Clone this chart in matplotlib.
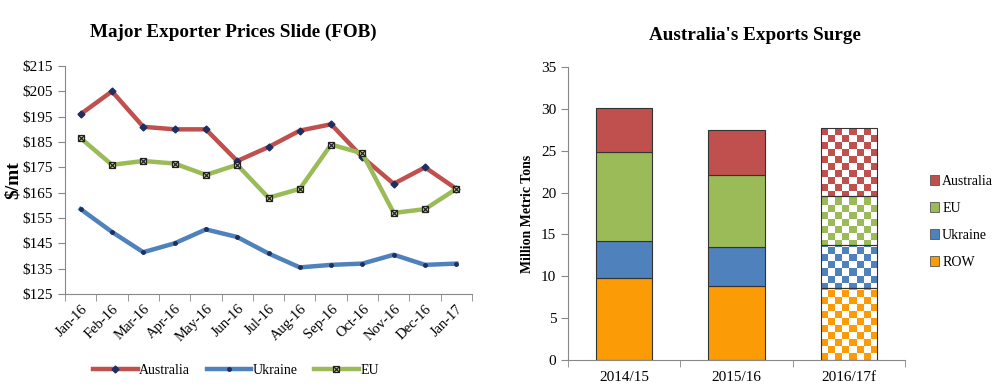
import matplotlib
matplotlib.use("Agg")
import matplotlib.pyplot as plt
import matplotlib.patches as mpatches
from matplotlib.lines import Line2D
import numpy as np

plt.rcParams['font.family'] = ['Liberation Serif', 'DejaVu Serif']

months = ['Jan-16', 'Feb-16', 'Mar-16', 'Apr-16', 'May-16', 'Jun-16', 'Jul-16',
          'Aug-16', 'Sep-16', 'Oct-16', 'Nov-16', 'Dec-16', 'Jan-17']
australiaPrice = [196, 205, 191, 190, 190, 177.5, 183, 189.5, 192, 179, 168.5, 175, 166.5]
ukrainePrice = [158.5, 149.5, 141.5, 145, 150.5, 147.5, 141, 135.5, 136.5, 137, 140.5, 136.5, 137]
euPrice = [186.5, 176, 177.5, 176.5, 172, 176, 163, 166.5, 184, 180.5, 157, 158.5, 166.5]

years = ['2014/15', '2015/16', '2016/17f']
row = [9.8, 8.8, 8.6]
ukraine = [4.4, 4.7, 5.1]
eu = [10.6, 8.6, 5.9]
australia = [5.3, 5.4, 8.1]

cRed = '#c0504d'
cBlue = '#4f81bd'
cGreen = '#9bbb59'
cOrange = '#fb9b06'

fig = plt.figure(figsize=(10, 3.89), dpi=100)

# ---- left: prices
ax1 = fig.add_axes([0.065, 1 - 294/389, 0.407, 228/389])
x = np.arange(len(months))
ax1.plot(x, australiaPrice, color=cRed, lw=3.2, marker='D', ms=3.5,
         mfc='#1f2f5f', mec='#1f2f5f', zorder=3)
ax1.plot(x, ukrainePrice, color=cBlue, lw=3.2, marker='o', ms=2.5,
         mfc='#1f2f5f', mec='#1f2f5f', zorder=3)
ax1.plot(x, euPrice, color=cGreen, lw=3.2, marker='s', ms=5,
         mfc='#c8d89a', mec='#222222', mew=0.9, zorder=4)
ax1.plot(x, euPrice, ls='none', marker='x', ms=3.8, mec='#222222', mew=0.9, zorder=5)

ax1.set_xlim(-0.5, len(months) - 0.5)
ax1.set_ylim(125, 215)
ax1.set_yticks(range(125, 216, 10))
ax1.set_yticklabels(['$' + str(v) for v in range(125, 216, 10)], fontsize=11)
ax1.set_xticks(x)
ax1.set_xticklabels(months, rotation=45, fontsize=10.5, ha='right', rotation_mode='anchor')
ax1.set_xticks(np.arange(-0.5, len(months)), minor=True)
ax1.tick_params(axis='x', which='major', length=0, pad=6)
ax1.tick_params(axis='x', which='minor', length=5, color='#888888')
ax1.tick_params(axis='y', length=5, color='#888888')
for s in ['top', 'right']:
    ax1.spines[s].set_visible(False)
for s in ['left', 'bottom']:
    ax1.spines[s].set_color('#888888')
fig.text(0.013, 1 - 180/389, '$/mt', rotation=90, fontsize=14, fontweight='bold',
         ha='center', va='center')
fig.text(0.233, 1 - 32/389, 'Major Exporter Prices Slide (FOB)', fontsize=13.8,
         fontweight='bold', ha='center', va='center')

h1 = Line2D([], [], color=cRed, lw=3.2, marker='D', ms=3.5, mfc='#1f2f5f', mec='#1f2f5f')
h2 = Line2D([], [], color=cBlue, lw=3.2, marker='o', ms=2.5, mfc='#1f2f5f', mec='#1f2f5f')
h3a = Line2D([], [], color=cGreen, lw=3.2, marker='s', ms=5, mfc='#c8d89a', mec='#222222', mew=0.9)
h3b = Line2D([], [], ls='none', marker='x', ms=3.8, mec='#222222', mew=0.9)
fig.legend([h1, h2, (h3a, h3b)], ['Australia', 'Ukraine', 'EU'], ncol=3,
           loc='center', bbox_to_anchor=(0.236, 1 - 370/389), frameon=False,
           fontsize=10, handlelength=3.2, columnspacing=1.2, handletextpad=0.1)

# ---- right: exports
ax2 = fig.add_axes([0.568, 1 - 360/389, 0.337, 293/389])
xb = np.arange(len(years))
width = 0.5
series = [('ROW', row, cOrange), ('Ukraine', ukraine, cBlue),
          ('EU', eu, cGreen), ('Australia', australia, cRed)]
bottom = np.zeros(len(years))
handles = []
sq = 0.84  # checker square height in data units
for name, vals, col in series:
    vals = np.array(vals)
    ax2.bar(xb[:2], vals[:2], width, bottom[:2], color=col, edgecolor='#333333', lw=0.8, zorder=2)
    b = bottom[2]
    h = vals[2]
    patch = ax2.bar(xb[2], h, width, b, facecolor='white', edgecolor='none', zorder=2)[0]
    r0 = int(np.floor(b / sq))
    r1 = int(np.ceil((b + h) / sq))
    grid = np.add.outer(np.arange(r0, r1), np.arange(8)) % 2
    rgb = np.array(matplotlib.colors.to_rgb(col))
    img = np.where(grid[..., None] == 0, rgb, np.ones(3))
    im = ax2.imshow(img, extent=(xb[2] - width/2, xb[2] + width/2, r0 * sq, r1 * sq),
                    aspect='auto', interpolation='nearest', origin='lower', zorder=2.5)
    im.set_clip_path(patch)
    ax2.bar(xb[2], h, width, b, fill=False, edgecolor='#333333', lw=0.8, zorder=3)
    handles.append(mpatches.Patch(facecolor=col, edgecolor='#555555', lw=0.6, label=name))
    bottom = bottom + vals

ax2.set_xlim(-0.5, len(years) - 0.5)
ax2.set_ylim(0, 35)
ax2.set_yticks(range(0, 36, 5))
ax2.tick_params(axis='y', labelsize=11, length=5, color='#888888')
ax2.set_xticks(xb)
ax2.set_xticklabels(years, fontsize=11)
ax2.set_xticks(np.arange(-0.5, len(years)), minor=True)
ax2.tick_params(axis='x', which='major', length=0, pad=8)
ax2.tick_params(axis='x', which='minor', length=5, color='#888888')
for s in ['top', 'right']:
    ax2.spines[s].set_visible(False)
for s in ['left', 'bottom']:
    ax2.spines[s].set_color('#888888')
ax2.set_ylabel('Million Metric Tons', fontsize=10, fontweight='bold', labelpad=5)
fig.text(0.755, 1 - 35/389, "Australia's Exports Surge", fontsize=13.8,
         fontweight='bold', ha='center', va='center')
fig.legend(handles[::-1], [hh.get_label() for hh in handles[::-1]],
           loc='center left', bbox_to_anchor=(0.924, 1 - 222/389), frameon=False,
           fontsize=10, handlelength=0.7, handleheight=0.7, handletextpad=0.2,
           labelspacing=1.0, borderaxespad=0)

fig.savefig('out.png', dpi=100)
